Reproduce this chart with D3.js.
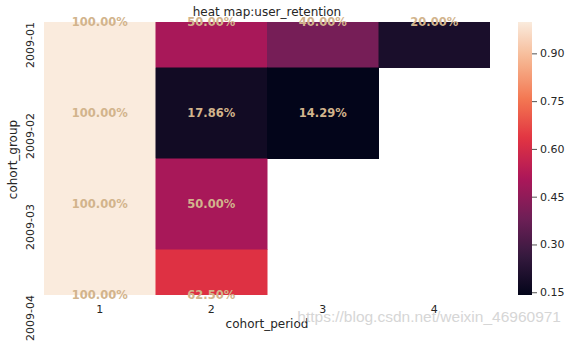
<!DOCTYPE html>
<html><head><meta charset="utf-8">
<script src="https://cdn.jsdelivr.net/npm/d3@7"></script>
<style>body{margin:0;background:#fff}svg{display:block;font-family:"DejaVu Sans",sans-serif}</style>
</head><body><svg id="c" width="572" height="343"></svg>
<script>
const cohorts = ["2009-01","2009-02","2009-03","2009-04"];
const periods = [1,2,3,4];
const retention = [
  [1.0, 0.50, 0.40, 0.20],
  [1.0, 0.1786, 0.1429, null],
  [1.0, 0.50, null, null],
  [1.0, 0.625, null, null]
];
const cbarTicks = [0.15,0.30,0.45,0.60,0.75,0.90];
const rocketStops = ["#03051a","#35193e","#701f57","#ad1759","#e13342","#f37651","#f6b48f","#faebdd"];

const svg = d3.select("#c");
const L=44,R=490,T=22,B=295;
const vmin = d3.min(retention.flat().filter(v=>v!=null)), vmax = d3.max(retention.flat().filter(v=>v!=null));
const x = d3.scaleBand().domain(periods).range([L,R]);
const y = d3.scaleLinear().domain([0.5, cohorts.length-0.5]).range([T,B]);
const norm = d3.scaleLinear().domain([vmin,vmax]).range([0,1]).clamp(true);
const ramp = d3.scaleLinear().domain(rocketStops.map((_,i)=>i/(rocketStops.length-1))).range(rocketStops).interpolate(d3.interpolateRgb);
const color = v=>ramp(norm(v));

svg.append("clipPath").attr("id","pc").append("rect").attr("x",L).attr("y",T).attr("width",R-L).attr("height",B-T);
const cells=[];
retention.forEach((row,i)=>row.forEach((v,j)=>{ if(v!=null) cells.push({i,j,v}); }));
const g = svg.append("g").attr("clip-path","url(#pc)");
g.selectAll("rect").data(cells).join("rect")
  .attr("x",d=>x(periods[d.j])).attr("width",x.bandwidth()+0.5)
  .attr("y",d=>y(d.i)).attr("height",d=>y(d.i+1)-y(d.i)+0.5)
  .attr("fill",d=>color(d.v));
svg.append("g").selectAll("text").data(cells).join("text")
  .attr("x",d=>x(periods[d.j])+x.bandwidth()/2).attr("y",d=>y(d.i+0.5))
  .attr("text-anchor","middle").attr("dominant-baseline","central")
  .attr("font-size","11.5px").attr("font-weight","bold").attr("fill","#d2b48c")
  .text(d=>(d.v*100).toFixed(2)+"%");

// x ticks
svg.append("g").selectAll("text").data(periods).join("text")
  .attr("x",d=>x(d)+x.bandwidth()/2).attr("y",313).attr("text-anchor","middle")
  .attr("font-size","11px").attr("fill","#262626").text(d=>d);
// y ticks
svg.append("g").selectAll("text").data(cohorts).join("text")
  .attr("transform",(d,i)=>`translate(34,${y(i+0.5)}) rotate(-90)`).attr("text-anchor","end")
  .attr("font-size","11px").attr("fill","#262626").text(d=>d);

svg.append("text").attr("x",(L+R)/2).attr("y",16).attr("text-anchor","middle").attr("font-size","12px").attr("fill","#262626").text("heat map:user_retention");
svg.append("text").attr("x",(L+R)/2).attr("y",328).attr("text-anchor","middle").attr("font-size","12px").attr("fill","#262626").text("cohort_period");
svg.append("text").attr("transform",`translate(17,${(T+B)/2+1}) rotate(-90)`).attr("text-anchor","middle").attr("font-size","12px").attr("fill","#262626").text("cohort_group");

// colorbar
const cb = d3.scaleLinear().domain([vmin,vmax]).range([B,T]);
const grad = svg.append("defs").append("linearGradient").attr("id","gr").attr("x1",0).attr("y1",1).attr("x2",0).attr("y2",0);
d3.range(0,1.0001,0.02).forEach(t=>grad.append("stop").attr("offset",t).attr("stop-color",ramp(t)));
svg.append("rect").attr("x",518).attr("y",T).attr("width",14).attr("height",B-T).attr("fill","url(#gr)");
const ct = svg.append("g").selectAll("g").data(cbarTicks).join("g").attr("transform",d=>`translate(532,${cb(d)})`);
ct.append("line").attr("x1",0).attr("x2",5).attr("stroke","#262626").attr("stroke-width",0.8);
ct.append("text").attr("x",8).attr("dominant-baseline","central").attr("font-size","11px").attr("fill","#262626").text(d=>d.toFixed(2));

svg.append("text").attr("x",561).attr("y",322).attr("text-anchor","end").attr("font-family","'Liberation Sans',Arial,sans-serif").attr("font-size","15.5px").attr("fill","#d6d6d6").text("https://blog.csdn.net/weixin_46960971");
</script></body></html>
